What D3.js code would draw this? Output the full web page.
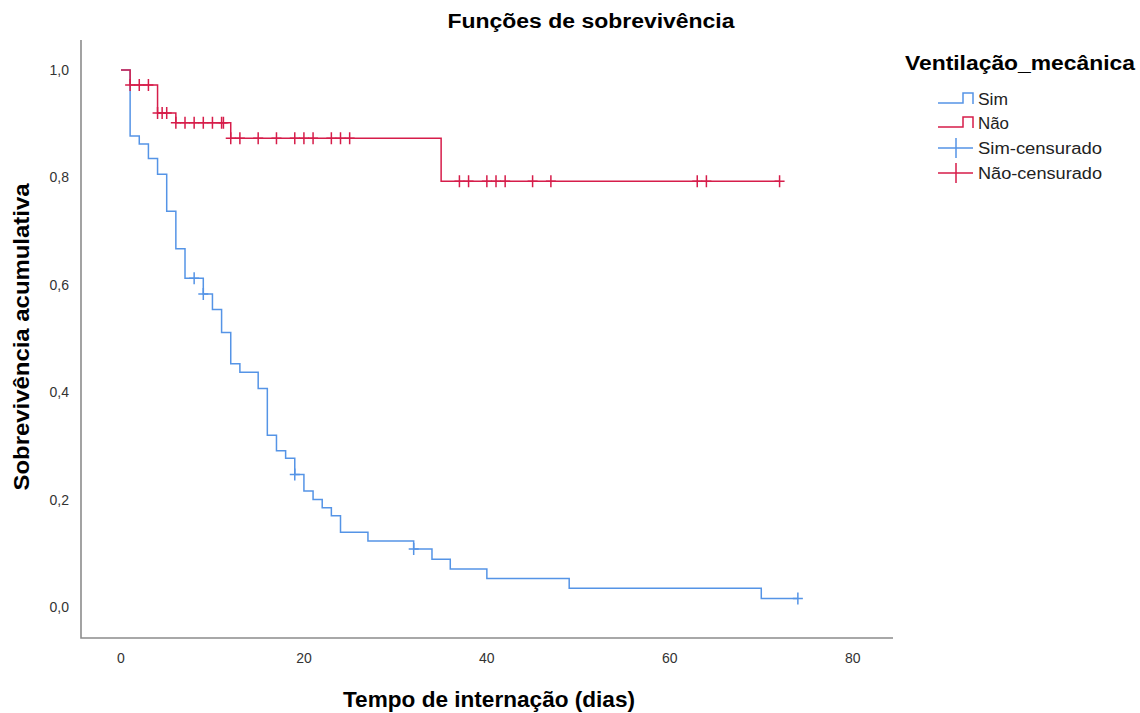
<!DOCTYPE html>
<html>
<head>
<meta charset="utf-8">
<script src="https://cdn.jsdelivr.net/npm/d3@7"></script>
<style>
  body { margin:0; background:#fff; }
  text { font-family: "Liberation Sans", Arial, sans-serif; }
</style>
</head>
<body>
<div class="viz"></div>
<script>
'use strict';

// Kaplan-Meier steps: [dia, sobrevivencia]
var simSteps = [[0,1.0],[1,0.877],[2,0.862],[3,0.835],[4,0.806],[5,0.737],[6,0.667],[7,0.612],
                [9,0.583],[10,0.554],[11,0.511],[12,0.453],[13,0.437],[15,0.407],[16,0.320],
                [17,0.291],[18,0.277],[19,0.247],[20,0.216],[21,0.200],[22,0.185],[23,0.170],
                [24,0.139],[27,0.123],[32,0.108],[34,0.089],[36,0.071],[40,0.053],[49,0.035],
                [70,0.016],[74,0.016]]
var simCensored = [[8,0.612],[9,0.583],[19,0.247],[32,0.108],[74,0.016]]

var naoSteps = [[0,1.0],[1,0.972],[4,0.920],[6,0.902],[12,0.873],[35,0.793],[72,0.793]]
var naoCensored = [[1,0.972],[2,0.972],[3,0.972],
                   [4,0.920],[4.5,0.920],[5,0.920],
                   [6,0.902],[7,0.902],[8,0.902],[9,0.902],[10,0.902],[11,0.902],[11.2,0.902],
                   [12,0.873],[13,0.873],[15,0.873],[17,0.873],[19,0.873],[20,0.873],[21,0.873],
                   [23,0.873],[24,0.873],[25,0.873],
                   [37,0.793],[38,0.793],[40,0.793],[41,0.793],[42,0.793],[45,0.793],[47,0.793],
                   [63,0.793],[64,0.793],[72,0.793]]

var xTicks = [0,20,40,60,80]
var yTicks = [0,0.2,0.4,0.6,0.8,1.0]

var legendLabels = ["Sim","Não","Sim-censurado","Não-censurado"]

var blue = "#5594e6",
    red = "#d61d4a"

var width = 1140, height = 713

var svg = d3.select(".viz")
          .append("svg")
          .attr("width",width)
          .attr("height",height)

// scales: frame runs x 81..893, y 40..638
var x = d3.scaleLinear().domain([-4.37,84.4]).range([81,893])
var y = d3.scaleLinear().domain([-0.0577,1.0559]).range([638,40])

// axis lines (left + bottom only)
svg.append("path")
   .attr("d","M"+x.range()[0]+","+y.range()[1]+"V"+y.range()[0]+"H"+x.range()[1])
   .attr("fill","none")
   .attr("stroke","#8c8c8c")
   .attr("stroke-width",1.6)

// tick labels
var comma = d3.format(".1f")
svg.append("g").selectAll("text")
   .data(yTicks)
   .enter()
   .append("text")
   .attr("x",69)
   .attr("y",function(d){ return y(d)+5 })
   .attr("text-anchor","end")
   .attr("font-size",14)
   .attr("fill","#333")
   .text(function(d){ return comma(d).replace(".",",") })

svg.append("g").selectAll("text")
   .data(xTicks)
   .enter()
   .append("text")
   .attr("x",function(d){ return x(d) })
   .attr("y",663)
   .attr("text-anchor","middle")
   .attr("font-size",14)
   .attr("fill","#333")
   .text(function(d){ return d })

// titles
svg.append("text")
   .attr("x",591).attr("y",28)
   .attr("text-anchor","middle")
   .attr("font-size",20).attr("font-weight","bold")
   .attr("textLength",287).attr("lengthAdjust","spacingAndGlyphs")
   .text("Funções de sobrevivência")

svg.append("text")
   .attr("x",489).attr("y",707)
   .attr("text-anchor","middle")
   .attr("font-size",22).attr("font-weight","bold")
   .attr("textLength",292).attr("lengthAdjust","spacingAndGlyphs")
   .text("Tempo de internação (dias)")

svg.append("text")
   .attr("transform","translate(29,337) rotate(-90)")
   .attr("text-anchor","middle")
   .attr("font-size",22).attr("font-weight","bold")
   .attr("textLength",307).attr("lengthAdjust","spacingAndGlyphs")
   .text("Sobrevivência acumulativa")

// survival curves
var line = d3.line()
    .x(function(d){ return x(d[0]) })
    .y(function(d){ return y(d[1]) })
    .curve(d3.curveStepAfter)

function drawSeries(steps, censored, color){
  var g = svg.append("g")
  g.append("path")
   .datum(steps)
   .attr("d",line)
   .attr("fill","none")
   .attr("stroke",color)
   .attr("stroke-width",1.5)

  g.selectAll("path.cross")
   .data(censored)
   .enter()
   .append("path")
   .attr("class","cross")
   .attr("d",function(d){
     var cx = x(d[0]), cy = y(d[1])
     return "M"+(cx-5)+","+cy+"H"+(cx+5)+"M"+cx+","+(cy-6)+"V"+(cy+6)
   })
   .attr("stroke",color)
   .attr("stroke-width",1.5)
}

drawSeries(simSteps, simCensored, blue)
drawSeries(naoSteps, naoCensored, red)

// legend
var lg = svg.append("g")
lg.append("text")
  .attr("x",905).attr("y",70)
  .attr("font-size",20).attr("font-weight","bold")
  .attr("textLength",230).attr("lengthAdjust","spacingAndGlyphs")
  .text("Ventilação_mecânica")

var legendY = [105,129,154,179]
var legendColors = [blue,red,blue,red]
var legendLen = [30,31,124,124]

lg.selectAll("text.item")
  .data(legendLabels)
  .enter()
  .append("text")
  .attr("class","item")
  .attr("x",978)
  .attr("y",function(d,i){ return legendY[i] })
  .attr("font-size",16)
  .attr("fill","#222")
  .attr("textLength",function(d,i){ return legendLen[i] })
  .attr("lengthAdjust","spacingAndGlyphs")
  .text(function(d){ return d })

lg.selectAll("path.sym")
  .data(legendLabels)
  .enter()
  .append("path")
  .attr("class","sym")
  .attr("d",function(d,i){
    var cy = legendY[i]-6
    if (i < 2) return "M938,"+(cy+4)+"H963V"+(cy-6)+"H973V"+(cy+5)
    return "M938,"+cy+"H973M956,"+(cy-10)+"V"+(cy+10)
  })
  .attr("fill","none")
  .attr("stroke",function(d,i){ return legendColors[i] })
  .attr("stroke-width",1.5)
</script>
</body>
</html>
